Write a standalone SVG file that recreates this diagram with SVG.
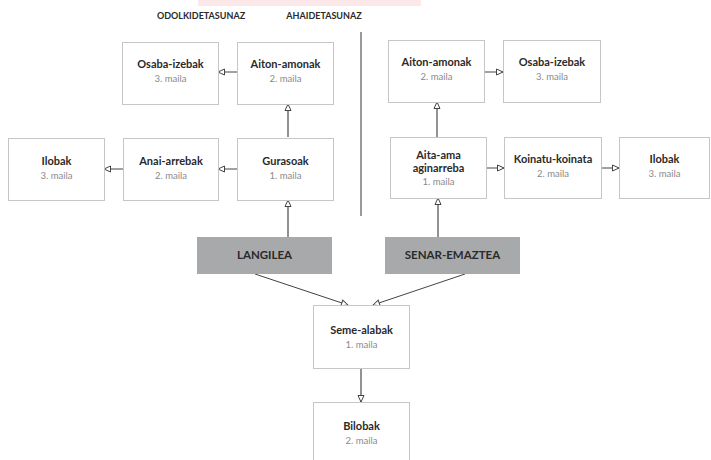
<svg xmlns="http://www.w3.org/2000/svg" width="711" height="460" viewBox="0 0 711 460">
<defs>
<marker id="ah" markerUnits="userSpaceOnUse" markerWidth="10" markerHeight="10" refX="7" refY="3.5" orient="auto" overflow="visible">
<path d="M0.5,0.5 L7,3.5 L0.5,6.5 z" fill="#fff" stroke="#444" stroke-width="1"/>
</marker>
<style>
.box{fill:#fff;stroke:#c6c6c6;stroke-width:1}
.gbox{fill:#a8a9ab;stroke:none}
.t{font-family:Lato,"Open Sans","Liberation Sans",sans-serif;font-weight:bold;font-size:11px;fill:#2a2a2a;text-anchor:middle}
.g{font-size:11.5px}
.s{font-family:Lato,"Open Sans","Liberation Sans",sans-serif;font-size:9.5px;fill:#8a8a8a;text-anchor:middle}
.h{font-family:Lato,"Open Sans","Liberation Sans",sans-serif;font-weight:bold;font-size:9px;fill:#2a2a2a;text-anchor:middle}
.c{stroke:#444;stroke-width:1;fill:none;marker-end:url(#ah)}
.cv{stroke:#6e6e6e;stroke-width:1.5;fill:none;marker-end:url(#ah)}
</style>
</defs>
<rect x="198" y="0" width="223" height="6" fill="#fce8e8"/>
<text class="h" x="201" y="19">ODOLKIDETASUNAZ</text>
<text class="h" x="324" y="19">AHAIDETASUNAZ</text>
<line x1="361" y1="32" x2="361" y2="216" stroke="#777" stroke-width="1.5"/>

<g id="connectors">
<line class="c" x1="237" y1="72" x2="218" y2="72"/>
<line class="cv" x1="288" y1="137" x2="288" y2="104"/>
<line class="c" x1="237" y1="169" x2="218" y2="169"/>
<line class="c" x1="123" y1="169" x2="104" y2="169"/>
<line class="cv" x1="288" y1="237" x2="288" y2="200"/>
<line class="c" x1="484" y1="72" x2="503" y2="72"/>
<line class="cv" x1="437" y1="137" x2="437" y2="102"/>
<line class="c" x1="486" y1="168" x2="504" y2="168"/>
<line class="c" x1="601" y1="168" x2="619" y2="168"/>
<line class="cv" x1="438" y1="237" x2="438" y2="198"/>
<line class="c" x1="255" y1="274" x2="348" y2="305"/>
<line class="c" x1="465" y1="274" x2="373" y2="305"/>
<line class="cv" x1="361" y1="368" x2="361" y2="402"/>
</g>

<g id="osaba-left">
<rect class="box" x="122.5" y="42.5" width="96" height="62"/>
<text class="t" x="170.5" y="68">Osaba-izebak</text>
<text class="s" x="170.5" y="82">3. maila</text>
</g>
<g id="aiton-left">
<rect class="box" x="237.5" y="42.5" width="96" height="62"/>
<text class="t" x="285.5" y="68">Aiton-amonak</text>
<text class="s" x="285.5" y="82">2. maila</text>
</g>
<g id="ilobak-left">
<rect class="box" x="8.5" y="138.5" width="96" height="62"/>
<text class="t" x="56.5" y="165">Ilobak</text>
<text class="s" x="56.5" y="179">3. maila</text>
</g>
<g id="anai">
<rect class="box" x="123.5" y="138.5" width="95" height="62"/>
<text class="t" x="171" y="165">Anai-arrebak</text>
<text class="s" x="171" y="179">2. maila</text>
</g>
<g id="gurasoak">
<rect class="box" x="237.5" y="138.5" width="96" height="62"/>
<text class="t" x="285.5" y="165">Gurasoak</text>
<text class="s" x="285.5" y="179">1. maila</text>
</g>
<g id="aiton-right">
<rect class="box" x="388.5" y="40.5" width="96" height="62"/>
<text class="t" x="436.5" y="66">Aiton-amonak</text>
<text class="s" x="436.5" y="80">2. maila</text>
</g>
<g id="osaba-right">
<rect class="box" x="503.5" y="40.5" width="97" height="62"/>
<text class="t" x="552" y="66">Osaba-izebak</text>
<text class="s" x="552" y="80">3. maila</text>
</g>
<g id="aita-ama">
<rect class="box" x="390.5" y="137.5" width="96" height="61"/>
<text class="t" x="438.5" y="159">Aita-ama</text>
<text class="t" x="438.5" y="172">aginarreba</text>
<text class="s" x="438.5" y="185">1. maila</text>
</g>
<g id="koinatu">
<rect class="box" x="504.5" y="137.5" width="97" height="61"/>
<text class="t" x="553" y="163">Koinatu-koinata</text>
<text class="s" x="553" y="177">2. maila</text>
</g>
<g id="ilobak-right">
<rect class="box" x="619.5" y="137.5" width="90" height="61"/>
<text class="t" x="664.5" y="163">Ilobak</text>
<text class="s" x="664.5" y="177">3. maila</text>
</g>
<g id="langilea">
<rect class="gbox" x="197" y="237" width="135" height="37"/>
<text class="t g" x="264.5" y="259">LANGILEA</text>
</g>
<g id="senar-emaztea">
<rect class="gbox" x="385" y="237" width="135" height="37"/>
<text class="t g" x="452.5" y="259">SENAR-EMAZTEA</text>
</g>
<g id="seme-alabak">
<rect class="box" x="313.5" y="305.5" width="96" height="63"/>
<text class="t" x="361.5" y="334">Seme-alabak</text>
<text class="s" x="361.5" y="348">1. maila</text>
</g>
<g id="bilobak">
<rect class="box" x="313.5" y="402.5" width="96" height="70"/>
<text class="t" x="361.5" y="430">Bilobak</text>
<text class="s" x="361.5" y="444">2. maila</text>
</g>
</svg>
